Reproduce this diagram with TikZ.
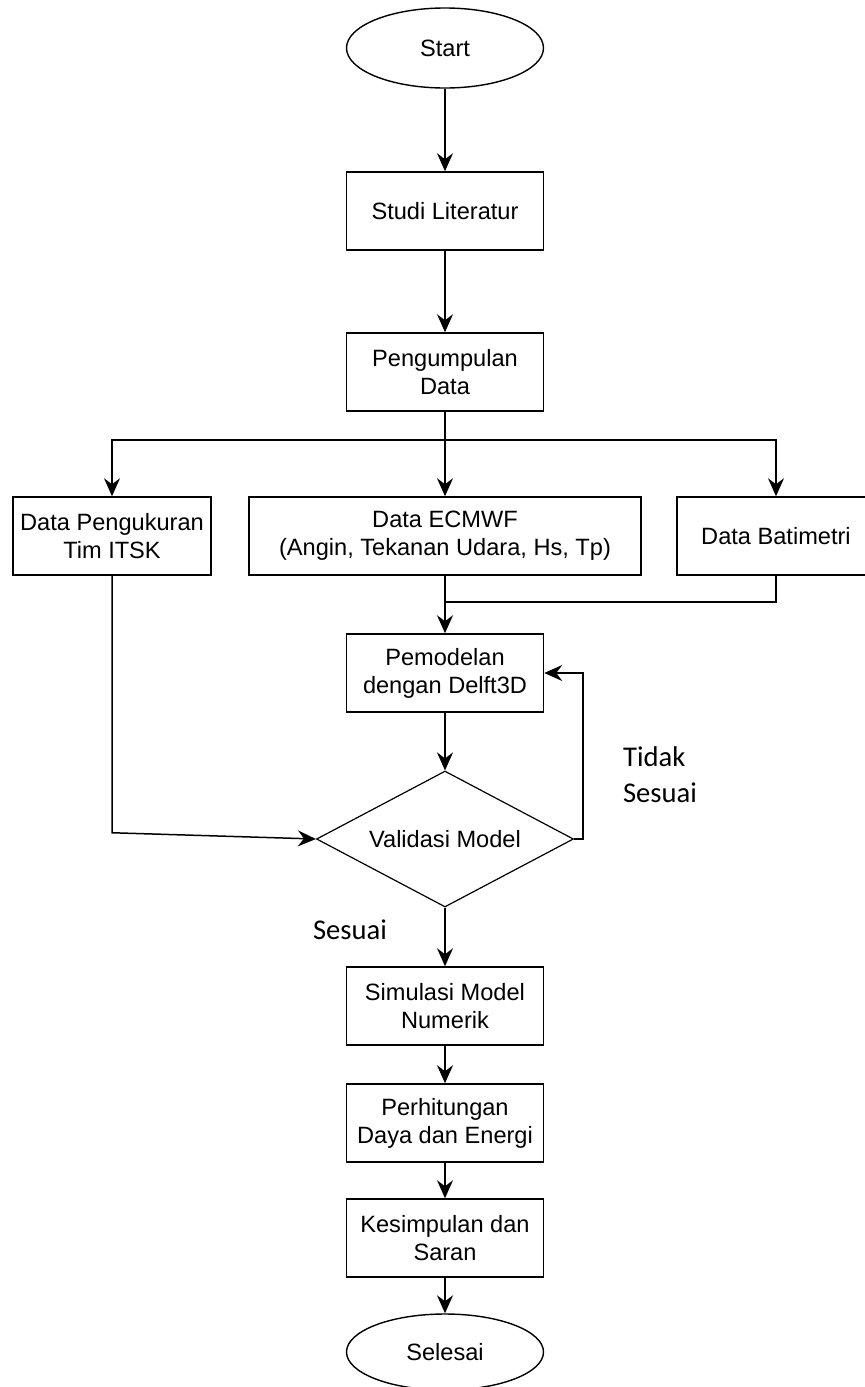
\documentclass[tikz,border=0pt]{standalone}
\usepackage{fontspec}
\setmainfont{Liberation Sans}
\newfontfamily\labelfont{Carlito}
\usepackage{tikz}
\usetikzlibrary{arrows.meta,shapes.geometric}

\begin{document}
\begin{tikzpicture}[x=0.5pt,y=-0.5pt,
    every node/.style={font=\fontsize{11.8}{14}\selectfont},
    proses/.style={draw,rectangle,line width=0.75pt,minimum width=98.5pt,minimum height=39pt,inner sep=0pt,align=center},
    terminal/.style={draw,ellipse,line width=0.7pt,minimum width=98.5pt,minimum height=40pt,inner sep=0pt},
    keputusan/.style={draw,diamond,aspect=1.9,line width=0.6pt,minimum width=128.5pt,minimum height=68pt,inner sep=0pt},
    panah/.style={-{Stealth[length=9pt,width=8pt,inset=3pt]},line width=0.75pt},
    garis/.style={line width=0.75pt},
    ket/.style={font=\labelfont\fontsize{14.3}{18}\selectfont,align=left}]
    % Page frame
    \useasboundingbox (0,0) rectangle (865,1387);

    % Main column
    \node[terminal] (start) at (445,48) {Start};
    \node[proses] (studi) at (445,211) {Studi Literatur};
    \node[proses] (kumpul) at (445,372) {Pengumpulan\\Data};

    % Data sources
    \node[proses,minimum width=99pt] (ukur) at (112,536) {Data Pengukuran\\Tim ITSK};
    \node[proses,minimum width=196pt] (ecmwf) at (445,536) {Data ECMWF\\(Angin, Tekanan Udara, Hs, Tp)};
    \node[proses,minimum width=99pt] (bati) at (776,536) {Data Batimetri};

    % Model and validation
    \node[proses] (model) at (445,673) {Pemodelan\\dengan Delft3D};
    \node[keputusan] (validasi) at (445,839) {Validasi Model};

    % Results
    \node[proses] (simulasi) at (445,1006) {Simulasi Model\\Numerik};
    \node[proses] (hitung) at (445,1123) {Perhitungan\\Daya dan Energi};
    \node[proses] (simpulan) at (445,1238) {Kesimpulan dan\\Saran};
    \node[terminal,minimum height=38pt] (selesai) at (445,1352) {Selesai};

    % Branch points
    \coordinate (pisah) at (445,440);
    \coordinate (gabung) at (445,602);

    % Arrows
    \draw[panah] (start) -- (studi);
    \draw[panah] (studi) -- (kumpul);
    \draw[panah] (kumpul) -- (ecmwf);
    \draw[panah] (pisah) -| (ukur.north);
    \draw[panah] (pisah) -| (bati.north);
    \draw[panah] (ecmwf) -- (model);
    \draw[garis] (bati.south) |- (gabung);
    \draw[panah] (model) -- (validasi);
    \draw[panah] (ukur.south) -- ++(0,257) -- (validasi.west);
    \draw[panah] (validasi.east) -- ++(9,0) |- (model.east);
    \draw[panah] (validasi) -- (simulasi);
    \draw[panah] (simulasi) -- (hitung);
    \draw[panah] (hitung) -- (simpulan);
    \draw[panah] (simpulan) -- (selesai);

    % Labels
    \node[ket,anchor=west] (tidak) at (616,775) {Tidak\\Sesuai};
    \node[ket] (sesuai) at (350,930) {Sesuai};
\end{tikzpicture}
\end{document}
